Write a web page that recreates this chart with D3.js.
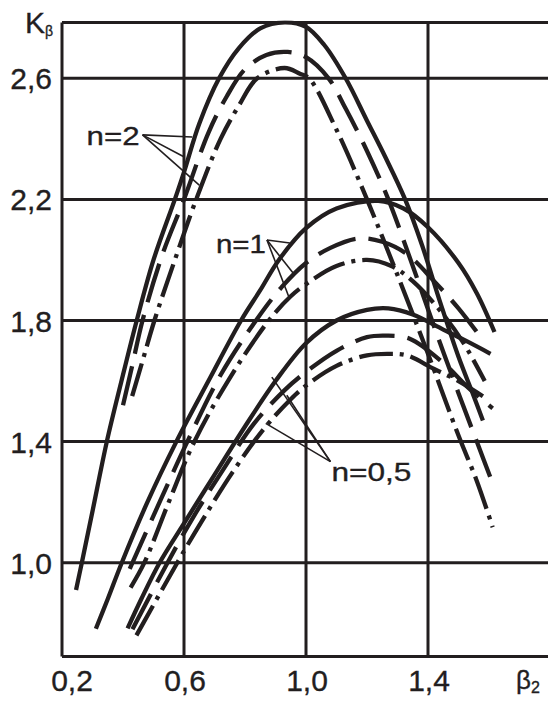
<!DOCTYPE html>
<html><head><meta charset="utf-8">
<script src="https://cdn.jsdelivr.net/npm/d3@7"></script>
<style>
body{margin:0;background:#fff}
svg{display:block}
text{font-family:Arial,"Liberation Sans",Helvetica,sans-serif;fill:#221e1f;stroke:#221e1f;stroke-width:0.35px}
</style>
</head><body>
<svg id="chart" width="548" height="702"></svg>
<script>
// ---- tick values / labels ----
const xTicks = [0.2, 0.6, 1.0, 1.4];
const xTickLabels = ["0,2", "0,6", "1,0", "1,4"];
const yTicks = [1.0, 1.4, 1.8, 2.2, 2.6];
const yTickLabels = ["1,0", "1,4", "1,8", "2,2", "2,6"];

// ---- series (β2, Kβ) ----
const n2Solid = [[0.246,0.91],[0.265,1.0],[0.30,1.17],[0.347,1.4],[0.395,1.6],[0.445,1.8],[0.50,2.0],[0.57,2.2],[0.60,2.29],[0.65,2.45],[0.715,2.6],[0.78,2.70],[0.85,2.765],[0.93,2.785],[1.0,2.77],[1.06,2.71],[1.13,2.6],[1.20,2.46],[1.26,2.34],[1.325,2.2],[1.38,2.05],[1.44,1.86],[1.50,1.68],[1.55,1.55],[1.58,1.47]];
const n2Dash = [[0.40,1.52],[0.43,1.65],[0.464,1.8],[0.53,2.02],[0.60,2.2],[0.68,2.42],[0.74,2.54],[0.80,2.63],[0.87,2.677],[0.94,2.687],[1.0,2.67],[1.074,2.6],[1.13,2.5],[1.20,2.36],[1.27,2.2],[1.35,1.98],[1.42,1.78],[1.50,1.56],[1.56,1.40],[1.618,1.246]];
const n2DashDot = [[0.43,1.55],[0.465,1.67],[0.503,1.8],[0.57,2.0],[0.64,2.2],[0.72,2.4],[0.78,2.51],[0.84,2.6],[0.93,2.634],[0.98,2.615],[1.01,2.6],[1.10,2.43],[1.20,2.2],[1.30,1.95],[1.40,1.69],[1.50,1.42],[1.56,1.27],[1.612,1.117]];

const n1Solid = [[0.311,0.782],[0.35,0.88],[0.396,1.0],[0.48,1.2],[0.575,1.4],[0.68,1.6],[0.787,1.8],[0.85,1.9],[0.911,2.0],[1.0,2.105],[1.1,2.17],[1.237,2.195],[1.32,2.17],[1.4,2.108],[1.5,1.99],[1.56,1.89],[1.618,1.762]];
const n1Dash = [[0.422,0.98],[0.52,1.2],[0.611,1.4],[0.72,1.62],[0.836,1.8],[0.92,1.91],[1.0,1.99],[1.08,2.04],[1.17,2.071],[1.25,2.06],[1.33,2.02],[1.42,1.93],[1.50,1.84],[1.563,1.758]];
const n1DashDot = [[0.425,0.918],[0.47,1.0],[0.55,1.2],[0.634,1.4],[0.75,1.61],[0.878,1.8],[0.95,1.88],[1.0,1.92],[1.1,1.98],[1.2,2.0],[1.28,1.98],[1.35,1.93],[1.45,1.82],[1.52,1.72],[1.586,1.60]];

const n05Solid = [[0.415,0.783],[0.46,0.88],[0.52,1.0],[0.60,1.13],[0.70,1.29],[0.80,1.45],[0.90,1.60],[1.0,1.725],[1.1,1.80],[1.2,1.835],[1.27,1.84],[1.35,1.82],[1.45,1.77],[1.53,1.73],[1.605,1.69]];
const n05Dash = [[0.431,0.78],[0.546,1.0],[0.63,1.15],[0.73,1.31],[0.83,1.46],[0.93,1.57],[1.0,1.63],[1.1,1.70],[1.2,1.745],[1.26,1.75],[1.34,1.74],[1.45,1.66],[1.53,1.58],[1.612,1.51]];
const n05DashDot = [[0.444,0.76],[0.578,1.0],[0.66,1.14],[0.76,1.30],[0.86,1.44],[0.95,1.54],[1.0,1.585],[1.1,1.65],[1.2,1.685],[1.27,1.69],[1.33,1.685],[1.42,1.64],[1.50,1.60],[1.58,1.55]];

// ---- annotation labels: text, anchor and leader targets (data units) ----
const labelTexts = ["n=2", "n=1", "n=0,5"];
const labelAnchors = [[0.464,2.413],[0.872,2.066],[1.08,1.334]];
const labelTargets = [
  [[0.627,2.406],[0.601,2.34],[0.65,2.247]],
  [[0.947,2.056],[0.963,1.95],[0.943,1.88]],
  [[0.888,1.613],[0.937,1.553],[0.868,1.46]]
];

// ---- setup ----
const ink = "#221e1f";
const svg = d3.select("#chart");
const W = 548, H = 702;
const x = d3.scaleLinear().domain([0.2, 1.0]).range([62, 306]);
const y = d3.scaleLinear().domain([2.6, 1.0]).range([78.3, 562.7]);
const yTop = 2.784, yBot = 0.69, xRightPx = W;

// grid + frame
const g = svg.append("g");
g.selectAll("line.hg").data(yTicks.concat([yTop, yBot])).join("line")
  .attr("x1", x(0.2)).attr("x2", xRightPx)
  .attr("y1", d => y(d)).attr("y2", d => y(d))
  .attr("stroke", ink).attr("stroke-width", 3);
g.selectAll("line.vg").data(xTicks).join("line")
  .attr("x1", d => x(d)).attr("x2", d => x(d))
  .attr("y1", y(yTop)).attr("y2", y(yBot))
  .attr("stroke", ink).attr("stroke-width", 3);

// y tick labels
svg.append("g").selectAll("text").data(yTicks).join("text")
  .attr("x", 52).attr("y", d => y(d) + 11)
  .attr("text-anchor", "end").attr("font-size", 30)
  .text((d, i) => yTickLabels[i]);

// x tick labels
svg.append("g").selectAll("text").data(xTicks).join("text")
  .attr("x", (d, i) => x(d) + (i === 0 ? 10 : 1)).attr("y", 691)
  .attr("text-anchor", "middle").attr("font-size", 30)
  .text((d, i) => xTickLabels[i]);

// axis titles
const ky = svg.append("text").attr("x", 25).attr("y", 33).attr("font-size", 30);
ky.append("tspan").text("K");
ky.append("tspan").attr("font-size", 14).attr("dy", 3).text("β");
const bx = svg.append("text").attr("x", 516).attr("y", 689).attr("font-size", 26);
bx.append("tspan").text("β");
bx.append("tspan").attr("font-size", 16).attr("dy", 4).text("2");

// curves
const line = d3.line().x(d => x(d[0])).y(d => y(d[1])).curve(d3.curveCatmullRom.alpha(0.5));
const series = [
  {data: n2Solid, dash: null}, {data: n2Dash, dash: "40,13"}, {data: n2DashDot, dash: "34,7,4,7"},
  {data: n1Solid, dash: null}, {data: n1Dash, dash: "40,13"}, {data: n1DashDot, dash: "34,7,4,7"},
  {data: n05Solid, dash: null}, {data: n05Dash, dash: "40,13"}, {data: n05DashDot, dash: "34,7,4,7"}
];
svg.append("clipPath").attr("id", "clip").append("rect")
  .attr("x", x(0.2)).attr("y", y(yTop) - 2).attr("width", W).attr("height", y(yBot) - y(yTop) + 2);
svg.append("g").attr("clip-path", "url(#clip)").selectAll("path").data(series).join("path")
  .attr("d", d => line(d.data))
  .attr("fill", "none").attr("stroke", ink).attr("stroke-width", 4.3)
  .attr("stroke-linecap", "butt")
  .attr("stroke-dasharray", d => d.dash);

// annotations
const ann = svg.append("g");
labelTexts.forEach((t, i) => {
  const [ax, ay] = labelAnchors[i];
  labelTargets[i].forEach(([tx, ty]) => {
    ann.append("line").attr("x1", x(ax)).attr("y1", y(ay)).attr("x2", x(tx)).attr("y2", y(ty))
      .attr("stroke", ink).attr("stroke-width", 1.6);
  });
});
ann.append("text").attr("x", x(labelAnchors[0][0]) - 3).attr("y", y(labelAnchors[0][1]) + 10)
  .attr("text-anchor", "end").attr("font-size", 26).attr("textLength", 53).attr("lengthAdjust", "spacingAndGlyphs").text(labelTexts[0]);
ann.append("text").attr("x", x(labelAnchors[1][0]) - 1).attr("y", y(labelAnchors[1][1]) + 13)
  .attr("text-anchor", "end").attr("font-size", 26).attr("textLength", 50).attr("lengthAdjust", "spacingAndGlyphs").text(labelTexts[1]);
ann.append("text").attr("x", x(labelAnchors[2][0]) + 1).attr("y", y(labelAnchors[2][1]) + 19)
  .attr("text-anchor", "start").attr("font-size", 26).attr("textLength", 80).attr("lengthAdjust", "spacingAndGlyphs").text(labelTexts[2]);
</script>
</body></html>
